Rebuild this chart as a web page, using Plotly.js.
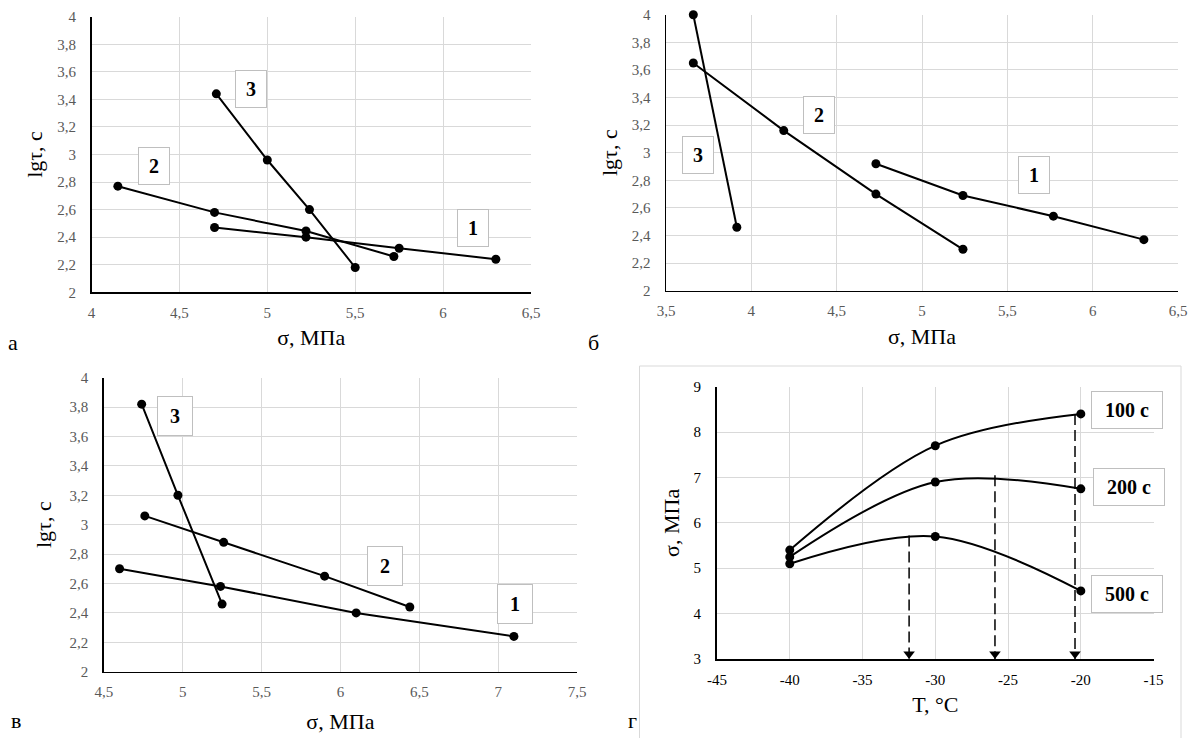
<!DOCTYPE html>
<html>
<head>
<meta charset="utf-8">
<script src="https://cdn.plot.ly/plotly-3.0.1.min.js"></script>
<style>html,body{margin:0;padding:0;background:#fff;}#chart{width:1191px;height:738px;}</style>
</head>
<body>
<div id="chart"></div>
<script>
// ---------- data ----------
// panel а
const a1X = [4.70, 5.22, 5.75, 6.30];  const a1Y = [2.47, 2.40, 2.32, 2.24];
const a2X = [4.15, 4.70, 5.22, 5.72];  const a2Y = [2.77, 2.58, 2.445, 2.26];
const a3X = [4.71, 5.00, 5.24, 5.50];  const a3Y = [3.44, 2.96, 2.60, 2.18];
// panel б
const b1X = [4.73, 5.24, 5.77, 6.30];  const b1Y = [2.92, 2.69, 2.54, 2.37];
const b2X = [3.66, 4.19, 4.73, 5.24];  const b2Y = [3.65, 3.16, 2.70, 2.30];
const b3X = [3.66, 3.915];             const b3Y = [4.00, 2.46];
// panel в
const c1X = [4.60, 5.24, 6.10, 7.10];  const c1Y = [2.70, 2.58, 2.40, 2.24];
const c2X = [4.76, 5.26, 5.90, 6.44];  const c2Y = [3.06, 2.88, 2.65, 2.44];
const c3X = [4.74, 4.97, 5.25];        const c3Y = [3.82, 3.20, 2.46];
// panel г
const gT    = [-40, -30, -20];
const g100  = [5.40, 7.70, 8.40];
const g200  = [5.25, 6.90, 6.75];
const g500  = [5.10, 5.70, 4.50];
const gPeakT = [-31.8, -25.9, -20.4];
const gPeakS = [5.72, 7.05, 8.40];
const gArrowTipS = 3.11;
// labels
const seriesLabels = ['1', '2', '3'];
const timeLabels = ['100 с', '200 с', '500 с'];
const panelLetters = ['а', 'б', 'в', 'г'];
const gTickVals = [-45, -40, -35, -30, -25, -20, -15];
const gTickText = ['-45', '-40', '-35', '-30', '-25', '-20', '-15'];

// ---------- layout helpers ----------
const W = 1191, H = 738;
const px = v => v / W;
const py = v => 1 - v / H;
const SERIF = 'Liberation Serif, Times New Roman, serif';

function ln(x, y, xa, ya) {
  return {x: x, y: y, xaxis: xa, yaxis: ya, type: 'scatter', mode: 'lines+markers',
    line: {color: '#000', width: 2}, marker: {color: '#000', size: 9},
    cliponaxis: false, hoverinfo: 'x+y'};
}

const traces = [
  ln(a1X, a1Y, 'x', 'y'), ln(a2X, a2Y, 'x', 'y'), ln(a3X, a3Y, 'x', 'y'),
  ln(b1X, b1Y, 'x2', 'y2'), ln(b2X, b2Y, 'x2', 'y2'), ln(b3X, b3Y, 'x2', 'y2'),
  ln(c1X, c1Y, 'x3', 'y3'), ln(c2X, c2Y, 'x3', 'y3'), ln(c3X, c3Y, 'x3', 'y3')
];
[g100, g200, g500].forEach(s => {
  const t = ln(gT, s, 'x4', 'y4');
  t.line.shape = 'spline';
  traces.push(t);
});
// dashed drop lines with arrow heads
gPeakT.forEach((t, i) => {
  traces.push({x: [t, t], y: [gPeakS[i], 3], xaxis: 'x4', yaxis: 'y4', type: 'scatter',
    mode: 'lines', line: {color: '#000', width: 1.5, dash: '11px,5px'}, hoverinfo: 'skip'});
});
traces.push({x: gPeakT, y: gPeakT.map(() => gArrowTipS), xaxis: 'x4', yaxis: 'y4', type: 'scatter',
  mode: 'markers', marker: {symbol: 'triangle-down', size: 10, color: '#000'}, hoverinfo: 'skip', cliponaxis: false});

function xax(dom, range, dtick, titleText, anchor, extra) {
  return Object.assign({
    domain: dom, range: range, dtick: dtick, anchor: anchor,
    showgrid: true, gridcolor: '#d9d9d9', gridwidth: 1, zeroline: false,
    showline: true, linecolor: '#000', linewidth: 1.5, ticks: '',
    ticklabelstandoff: 6,
    tickfont: {family: SERIF, size: 15, color: '#595959'},
    title: {text: titleText, font: {family: SERIF, size: 22, color: '#000'}, standoff: 10}
  }, extra || {});
}
function yax(dom, range, dtick, titleText, anchor, extra) {
  return Object.assign({
    domain: dom, range: range, dtick: dtick, anchor: anchor,
    showgrid: true, gridcolor: '#d9d9d9', gridwidth: 1, zeroline: false,
    showline: true, linecolor: '#000', linewidth: 1.5, ticks: '',
    ticklabelstandoff: 11,
    tickfont: {family: SERIF, size: 15, color: '#595959'},
    title: {text: titleText, font: {family: SERIF, size: 22, color: '#000'}, standoff: 8}
  }, extra || {});
}

const box = (text, x, y, xr, yr, w, h) => ({
  text: '<b>' + text + '</b>', x: x, y: y, xref: xr, yref: yr, showarrow: false,
  font: {family: SERIF, size: 20, color: '#000'}, bgcolor: '#fff',
  bordercolor: '#bfbfbf', borderwidth: 1, borderpad: 0, width: w, height: h,
  xanchor: 'center', yanchor: 'middle'
});

const annotations = [
  box(seriesLabels[2], 4.906, 3.473, 'x', 'y', 30, 36),
  box(seriesLabels[1], 4.357, 2.919, 'x', 'y', 30, 36),
  box(seriesLabels[0], 6.17, 2.47, 'x', 'y', 30, 36),
  box(seriesLabels[2], 3.687, 2.983, 'x2', 'y2', 30, 36),
  box(seriesLabels[1], 4.394, 3.271, 'x2', 'y2', 30, 36),
  box(seriesLabels[0], 5.656, 2.84, 'x2', 'y2', 30, 36),
  box(seriesLabels[2], 4.949, 3.738, 'x3', 'y3', 34, 38),
  box(seriesLabels[1], 6.283, 2.717, 'x3', 'y3', 34, 38),
  box(seriesLabels[0], 7.11, 2.463, 'x3', 'y3', 34, 38),
  box(timeLabels[0], -16.8, 8.49, 'x4', 'y4', 70, 36),
  box(timeLabels[1], -16.7, 6.79, 'x4', 'y4', 70, 36),
  box(timeLabels[2], -16.8, 4.43, 'x4', 'y4', 70, 36)
];
const letterPos = [[13, 342], [593, 342], [16, 720], [632, 720]];
panelLetters.forEach((l, i) => annotations.push({
  text: l, x: px(letterPos[i][0]), y: py(letterPos[i][1]), xref: 'paper', yref: 'paper',
  showarrow: false, xanchor: 'center', yanchor: 'middle',
  font: {family: SERIF, size: 22, color: '#000'}
}));

const layout = {
  width: W, height: H, margin: {l: 0, r: 0, t: 0, b: 0},
  paper_bgcolor: '#fff', plot_bgcolor: '#fff', showlegend: false, separators: ', ',
  font: {family: SERIF, size: 15, color: '#595959'},
  xaxis:  xax([px(91.5), px(531)], [4, 6.5], 0.5, 'σ, МПа', 'y'),
  yaxis:  yax([py(292.3), py(16.7)], [2, 4], 0.2, 'lgτ, с', 'x'),
  xaxis2: xax([px(666), px(1178)], [3.5, 6.5], 0.5, 'σ, МПа', 'y2'),
  yaxis2: yax([py(290.7), py(14.7)], [2, 4], 0.2, 'lgτ, с', 'x2'),
  xaxis3: xax([px(103.8), px(577)], [4.5, 7.5], 0.5, 'σ, МПа', 'y3', {title: {text: 'σ, МПа', font: {family: SERIF, size: 22, color: '#000'}, standoff: 14}}),
  yaxis3: yax([py(671.7), py(377.7)], [2, 4], 0.2, 'lgτ, с', 'x3', {title: {text: 'lgτ, с', font: {family: SERIF, size: 22, color: '#000'}, standoff: 12}}),
  xaxis4: xax([px(717), px(1153.6)], [-45, -15], 5, 'T, °C', 'y4',
    {tickmode: 'array', tickvals: gTickVals, ticktext: gTickText, linewidth: 2,
     tickfont: {family: SERIF, size: 15, color: '#000'}}),
  yaxis4: yax([py(659), py(386.7)], [3, 9], 1, 'σ, МПа', 'x4',
    {linewidth: 2, tickfont: {family: SERIF, size: 15, color: '#000'}}),
  shapes: [{type: 'rect', xref: 'paper', yref: 'paper', x0: px(639.5), x1: px(1181), y0: -0.02, y1: py(366),
    line: {color: '#d9d9d9', width: 1}, fillcolor: 'rgba(0,0,0,0)', layer: 'below'}],
  annotations: annotations
};

Plotly.newPlot('chart', traces, layout, {displayModeBar: false, staticPlot: true});
</script>
</body>
</html>
